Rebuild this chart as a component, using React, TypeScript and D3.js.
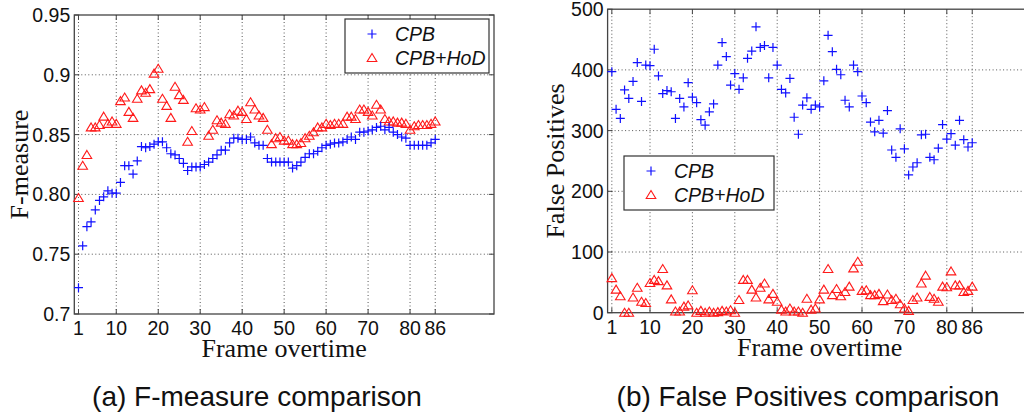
import React from 'react'
import * as d3 from 'd3'

// frame indices 1..86
const frames = d3.range(1, 87)
const xTicks = [1, 10, 20, 30, 40, 50, 60, 70, 80, 86]

const fmTicks = [0.7, 0.75, 0.8, 0.85, 0.9, 0.95]
const fmTickLabels = ['0.7', '0.75', '0.80', '0.85', '0.9', '0.95']
const fpTicks = [0, 100, 200, 300, 400, 500]
const fpTickLabels = ['0', '100', '200', '300', '400', '500']

const fMeasureCPB = [
  0.722, 0.757, 0.773, 0.777, 0.787, 0.795, 0.798, 0.803, 0.801, 0.801,
  0.810, 0.824, 0.824, 0.817, 0.828, 0.840, 0.839, 0.840, 0.842, 0.844,
  0.844, 0.839, 0.834, 0.833, 0.830, 0.826, 0.820, 0.823, 0.823, 0.823,
  0.825, 0.827, 0.830, 0.833, 0.837, 0.837, 0.843, 0.847, 0.847, 0.846,
  0.846, 0.848, 0.843, 0.841, 0.841, 0.830, 0.827, 0.827, 0.827, 0.827,
  0.827, 0.822, 0.824, 0.827, 0.831, 0.834, 0.834, 0.836, 0.839, 0.841,
  0.842, 0.843, 0.843, 0.844, 0.846, 0.848, 0.846, 0.852, 0.852, 0.853,
  0.854, 0.856, 0.857, 0.854, 0.856, 0.852, 0.850, 0.848, 0.847, 0.841,
  0.841, 0.841, 0.841, 0.841, 0.843, 0.846
]
const fMeasureHoD = [
  0.797, 0.824, 0.833, 0.856, 0.856, 0.858, 0.865, 0.859, 0.861, 0.859,
  0.878, 0.881, 0.869, 0.864, 0.880, 0.887, 0.885, 0.888, 0.901, 0.905,
  0.880, 0.874, 0.864, 0.890, 0.883, 0.879, 0.844, 0.853, 0.872, 0.871,
  0.873, 0.849, 0.854, 0.862, 0.860, 0.859, 0.867, 0.866, 0.870, 0.869,
  0.863, 0.877, 0.871, 0.866, 0.864, 0.854, 0.842, 0.847, 0.848, 0.845,
  0.845, 0.842, 0.842, 0.843, 0.847, 0.849, 0.852, 0.856, 0.856, 0.859,
  0.858, 0.859, 0.859, 0.859, 0.865, 0.865, 0.863, 0.871, 0.871, 0.869,
  0.866, 0.875, 0.871, 0.863, 0.861, 0.861, 0.860, 0.860, 0.859, 0.854,
  0.857, 0.858, 0.858, 0.858, 0.859, 0.861
]
const falsePosCPB = [
  397, 335, 320, 367, 353, 381, 412, 348, 408, 407,
  434, 390, 361, 366, 364, 320, 353, 339, 379, 355,
  346, 318, 309, 331, 344, 408, 445, 422, 375, 394,
  368, 387, 419, 431, 471, 437, 440, 387, 437, 408,
  368, 362, 386, 322, 294, 342, 354, 335, 342, 339,
  382, 457, 430, 401, 392, 350, 339, 408, 397, 357,
  346, 314, 298, 317, 296, 333, 268, 256, 303, 270,
  227, 240, 247, 293, 294, 256, 252, 271, 310, 286,
  295, 276, 317, 285, 273, 280
]
const falsePosHoD = [
  57, 38, 27, 0, 0, 25, 41, 18, 16, 49,
  54, 52, 72, 45, 22, 2, 2, 10, 12, 37,
  0, 3, 0, 2, 0, 1, 3, 2, 4, 0,
  21, 54, 54, 38, 25, 41, 48, 22, 31, 18,
  5, 2, 7, 2, 2, 0, 23, 5, 7, 22,
  38, 72, 29, 39, 27, 34, 43, 73, 84, 36,
  37, 29, 29, 31, 19, 30, 21, 23, 14, 7,
  3, 21, 25, 48, 61, 26, 23, 18, 43, 42,
  68, 45, 45, 34, 36, 43
]

const BLUE = '#1010ff'
const RED = '#ff1a1a'
const SANS = 'Liberation Sans, Arial, sans-serif'
const SERIF = 'Liberation Serif, Times New Roman, serif'

const Plus = ({ cx, cy }) => (
  <path d={`M${cx - 4.5},${cy}H${cx + 4.5}M${cx},${cy - 4.5}V${cy + 4.5}`} stroke={BLUE} strokeWidth={1.2} fill="none" />
)
const Tri = ({ cx, cy }) => (
  <path d={`M${cx},${cy - 4.5}L${cx + 4.8},${cy + 3.5}L${cx - 4.8},${cy + 3.5}Z`} stroke={RED} strokeWidth={1.1} fill="none" />
)

const Panel = ({ left, right, top, bottom, yDomain, yTicks, yTickLabels, yLabel, yLabelX, cpb, hod, legend }) => {
  const x = d3.scaleLinear().domain([0, 100]).range([left, right])
  const y = d3.scaleLinear().domain(yDomain).range([bottom, top])
  const grid = { stroke: '#555', strokeWidth: 1, strokeDasharray: '1 2.5' }
  const midY = (top + bottom) / 2
  return (
    <g>
      {xTicks.map(t => <line key={'gx' + t} x1={x(t)} x2={x(t)} y1={top} y2={bottom} {...grid} />)}
      {yTicks.slice(1, -1).map(t => <line key={'gy' + t} x1={left} x2={right} y1={y(t)} y2={y(t)} {...grid} />)}
      {/* inward ticks */}
      {xTicks.map(t => (
        <g key={'tx' + t} stroke="#444">
          <line x1={x(t)} x2={x(t)} y1={bottom} y2={bottom - 5} />
          <line x1={x(t)} x2={x(t)} y1={top} y2={top + 5} />
        </g>
      ))}
      {yTicks.map(t => (
        <g key={'ty' + t} stroke="#444">
          <line x1={left} x2={left + 5} y1={y(t)} y2={y(t)} />
          <line x1={right} x2={right - 5} y1={y(t)} y2={y(t)} />
        </g>
      ))}
      <rect x={left} y={top} width={right - left} height={bottom - top} fill="none" stroke="#444" strokeWidth={1.3} />
      {frames.map((f, i) => <Tri key={'h' + f} cx={x(f)} cy={y(hod[i])} />)}
      {frames.map((f, i) => <Plus key={'c' + f} cx={x(f)} cy={y(cpb[i])} />)}
      {xTicks.map(t => (
        <text key={'lx' + t} x={x(t)} y={bottom + 21} textAnchor="middle" fontFamily={SANS} fontSize={19.5} fill="#111">{t}</text>
      ))}
      {yTicks.map((t, i) => (
        <text key={'ly' + t} x={left - 4} y={y(t)} dy="0.36em" textAnchor="end" fontFamily={SANS} fontSize={19.5} fill="#111">{yTickLabels[i]}</text>
      ))}
      <text x={x(50)} y={bottom + 43} textAnchor="middle" fontFamily={SERIF} fontSize={26} fill="#111">Frame overtime</text>
      <text transform={`translate(${yLabelX},${midY}) rotate(-90)`} textAnchor="middle" fontFamily={SERIF} fontSize={26} fill="#111">{yLabel}</text>
      <g>
        <rect x={legend.x} y={legend.y} width={legend.w} height={legend.h} fill="#fff" stroke="#333" strokeWidth={1.2} />
        <Plus cx={legend.x + 27} cy={legend.y + 15} />
        <text x={legend.x + 50} y={legend.y + 22} fontFamily={SANS} fontStyle="italic" fontSize={19.5} fill="#111">CPB</text>
        <Tri cx={legend.x + 27} cy={legend.y + 39} />
        <text x={legend.x + 50} y={legend.y + 46} fontFamily={SANS} fontStyle="italic" fontSize={19.5} fill="#111">CPB+HoD</text>
      </g>
    </g>
  )
}

export default function App() {
  return (
    <svg width={1024} height={419} viewBox="0 0 1024 419" style={{ position: 'absolute', left: 0, top: 0, background: '#fff' }}>
      <rect width={1024} height={419} fill="#fff" />
      <Panel
        left={74.3} right={494} top={15} bottom={314}
        yDomain={[0.7, 0.95]} yTicks={fmTicks} yTickLabels={fmTickLabels}
        yLabel="F-measure" yLabelX={28}
        cpb={fMeasureCPB} hod={fMeasureHoD}
        legend={{ x: 345, y: 19, w: 144, h: 54 }}
      />
      <Panel
        left={607.6} right={1031.6} top={9.2} bottom={312.7}
        yDomain={[0, 500]} yTicks={fpTicks} yTickLabels={fpTickLabels}
        yLabel="False Positives" yLabelX={564}
        cpb={falsePosCPB} hod={falsePosHoD}
        legend={{ x: 624, y: 156, w: 150, h: 54 }}
      />
      <text x={257} y={406} textAnchor="middle" fontFamily={SANS} fontSize={28} fill="#111">(a) F-measure comparison</text>
      <text x={808} y={406} textAnchor="middle" fontFamily={SANS} fontSize={28} fill="#111">(b) False Positives comparison</text>
    </svg>
  )
}
